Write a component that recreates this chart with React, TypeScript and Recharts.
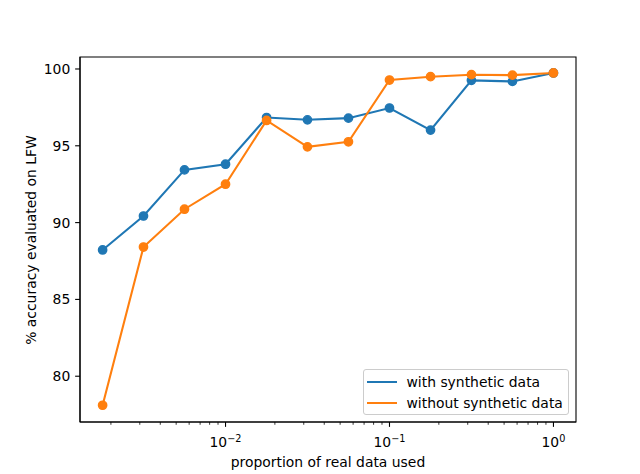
import React from 'react';
import { LineChart, Line, XAxis, YAxis, Legend, ReferenceArea } from 'recharts';

const proportions = [0.00178, 0.00316, 0.00562, 0.01, 0.0178, 0.0316, 0.0562, 0.1, 0.178, 0.316, 0.562, 1.0];
const withSynthetic = [88.22, 90.43, 93.43, 93.8, 96.84, 96.69, 96.8, 97.46, 96.02, 99.26, 99.19, 99.74];
const withoutSynthetic = [78.11, 88.41, 90.87, 92.5, 96.65, 94.93, 95.26, 99.28, 99.5, 99.63, 99.6, 99.74];
const yTicks = [80, 85, 90, 95, 100];
const seriesNames = ['with synthetic data', 'without synthetic data'];
const colors = ['#1f77b4', '#ff7f0e'];

const xDomain = [Math.pow(10, -2.8875), Math.pow(10, 0.1375)];
const yDomain = [77.02, 100.78];

const xTicks: number[] = [];
for (let k = -3; k <= 0; k++) {
  for (let m = 1; m <= 9; m++) {
    const v = m * Math.pow(10, k);
    if (v >= xDomain[0] && v <= xDomain[1]) xTicks.push(v);
  }
}

const data = proportions.map((p, i) => ({ p, a: withSynthetic[i], b: withoutSynthetic[i] }));

const FONT = '"DejaVu Sans", sans-serif';
const FS = 13.9;

const XTick = (props: any) => {
  const { x, y, payload } = props;
  const v = payload.value;
  const lg = Math.log10(v);
  const exp = Math.round(lg);
  const major = Math.abs(lg - exp) < 1e-6;
  return (
    <g>
      <line x1={x} x2={x} y1={y} y2={y + (major ? 4.86 : 2.78)} stroke="#000" strokeWidth={major ? 1.1 : 0.8} />
      {major && (
        <text x={x} y={y + 24.7} textAnchor="middle" fontFamily={FONT} fontSize={FS} fill="#000">
          <tspan>10</tspan>
          <tspan dy={-4.7} fontSize={9.7}>{exp < 0 ? '\u2212' + -exp : String(exp)}</tspan>
        </text>
      )}
    </g>
  );
};

const LegendBox = () => (
  <div
    style={{
      width: 204,
      height: 44,
      border: '1px solid #cccccc',
      borderRadius: 3,
      background: 'rgba(255,255,255,0.8)',
      fontFamily: FONT,
      fontSize: FS,
      color: '#000',
      position: 'relative',
    }}
  >
    {seriesNames.map((n, i) => (
      <div key={n} style={{ position: 'absolute', left: 3, top: 3 + i * 20.7, height: 18, display: 'flex', alignItems: 'center', whiteSpace: 'nowrap' }}>
        <div style={{ width: 29.5, height: 2.08, background: colors[i] }} />
        <span style={{ marginLeft: 10 }}>{n}</span>
      </div>
    ))}
  </div>
);

export default function App() {
  return (
    <div style={{ position: 'absolute', left: 0, top: 0, width: 640, height: 474 }}>
      <LineChart
        width={640}
        height={474}
        data={data}
        margin={{ top: 57, right: 64, left: 20, bottom: 12 }}
        style={{ fontFamily: FONT }}
      >
        <XAxis
          dataKey="p"
          type="number"
          scale="log"
          domain={xDomain}
          allowDataOverflow
          ticks={xTicks}
          interval={0}
          tick={<XTick />}
          tickLine={false}
          tickSize={0}
          tickMargin={0}
          height={40}
          axisLine={{ stroke: '#000', strokeWidth: 1.1 }}
          label={() => (
            <text x={328} y={467} textAnchor="middle" fontFamily={FONT} fontSize={FS} fill="#000">
              proportion of real data used
            </text>
          )}
        />
        <YAxis
          type="number"
          domain={yDomain}
          allowDataOverflow
          ticks={yTicks}
          interval={0}
          width={60}
          tickSize={4.86}
          tickMargin={4.86}
          tick={{ fill: '#000', fontSize: FS, fontFamily: FONT }}
          tickLine={{ stroke: '#000', strokeWidth: 1.1 }}
          axisLine={{ stroke: '#000', strokeWidth: 1.1 }}
          label={() => (
            <text x={36} y={240} transform="rotate(-90 36 240)" textAnchor="middle" fontFamily={FONT} fontSize={FS} fill="#000">
              % accuracy evaluated on LFW
            </text>
          )}
        />
        <ReferenceArea
          x1={xDomain[0]}
          x2={xDomain[1]}
          y1={yDomain[0]}
          y2={yDomain[1]}
          fill="none"
          fillOpacity={0}
          stroke="#000"
          strokeWidth={1.1}
          ifOverflow="visible"
        />
        <Legend
          layout="horizontal"
          verticalAlign="middle"
          align="center"
          content={<LegendBox />}
          wrapperStyle={{ position: 'absolute', left: 363, top: 369, width: 206, height: 46 }}
        />
        <Line
          dataKey="a"
          name={seriesNames[0]}
          stroke={colors[0]}
          strokeWidth={2.08}
          dot={{ r: 4.17, fill: colors[0], stroke: colors[0], strokeWidth: 1.39 }}
          activeDot={false}
          isAnimationActive={false}
        />
        <Line
          dataKey="b"
          name={seriesNames[1]}
          stroke={colors[1]}
          strokeWidth={2.08}
          dot={{ r: 4.17, fill: colors[1], stroke: colors[1], strokeWidth: 1.39 }}
          activeDot={false}
          isAnimationActive={false}
        />
      </LineChart>
    </div>
  );
}
